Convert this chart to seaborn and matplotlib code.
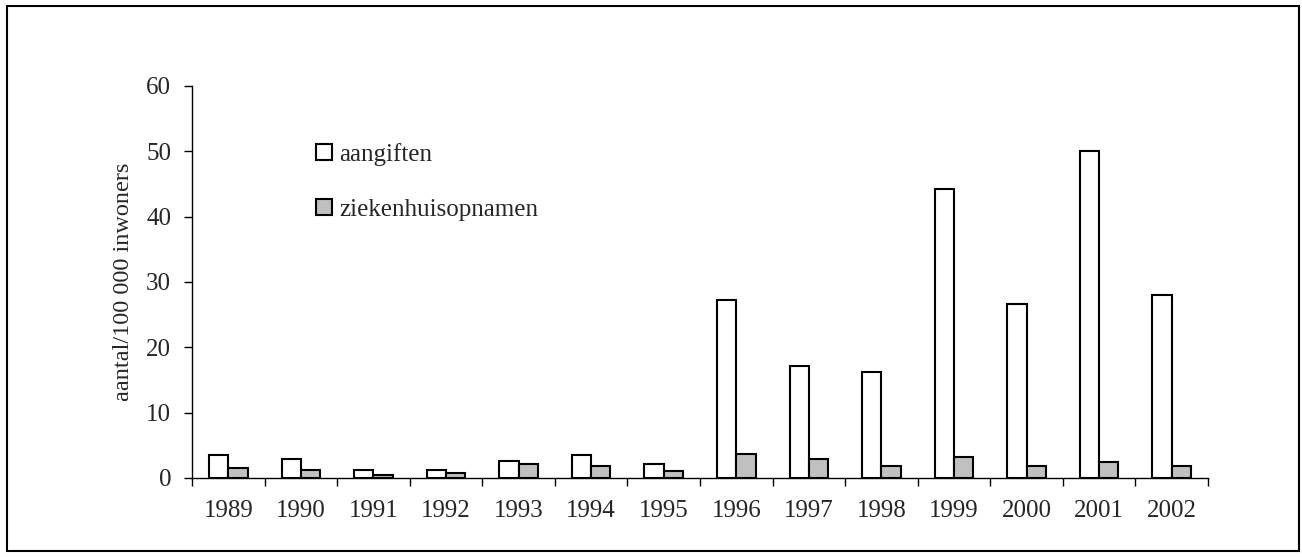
import matplotlib.pyplot as plt
import seaborn as sns
import pandas as pd
import numpy as np
from matplotlib.patches import Rectangle

years = ['1989', '1990', '1991', '1992', '1993', '1994', '1995',
         '1996', '1997', '1998', '1999', '2000', '2001', '2002']
aangiften = [3.5, 2.9, 1.2, 1.2, 2.6, 3.5, 2.1,
             27.2, 17.2, 16.2, 44.2, 26.6, 50.0, 28.0]
ziekenhuisopnamen = [1.5, 1.2, 0.5, 0.8, 2.2, 1.8, 1.1,
                     3.6, 2.9, 1.8, 3.2, 1.8, 2.5, 1.8]
series = ['aangiften', 'ziekenhuisopnamen']

df = pd.DataFrame({
    'jaar': years * 2,
    'waarde': aangiften + ziekenhuisopnamen,
    'reeks': [series[0]] * len(years) + [series[1]] * len(years),
})

sns.set_theme(style="white")
plt.rcParams['font.family'] = ['Liberation Serif', 'DejaVu Serif']

fig = plt.figure(figsize=(13.02, 5.57), dpi=100)
ax = fig.add_axes([192 / 1302, 79 / 557, 1016 / 1302, 392 / 557])

sns.barplot(data=df, x='jaar', y='waarde', hue='reeks',
            palette=['white', '#C0C0C0'], width=0.53, gap=0,
            edgecolor='black', linewidth=1.5, saturation=1, ax=ax)

ax.set_ylim(0, 60)
ax.set_xlim(-0.5, len(years) - 0.5)
ax.set_yticks(range(0, 61, 10))
ax.tick_params(axis='y', direction='out', length=6, width=1, labelsize=18,
               left=True, pad=9, color='black')
ax.tick_params(axis='x', which='major', length=0, labelsize=18, pad=16)
ax.set_xticks(np.arange(-0.5, len(years), 1), minor=True)
ax.tick_params(axis='x', which='minor', direction='out', length=6, width=1,
               bottom=True, color='black')

for side in ['top', 'right']:
    ax.spines[side].set_visible(False)
for side in ['left', 'bottom']:
    ax.spines[side].set_color('black')
    ax.spines[side].set_linewidth(1)

ax.set_xlabel('')
ax.set_ylabel('aantal/100 000 inwoners', fontsize=17.5, labelpad=9)

leg = ax.legend(loc='upper left', bbox_to_anchor=(0.100, 0.913), frameon=False,
                fontsize=18, handlelength=0.64, handleheight=0.64,
                handletextpad=0.3, labelspacing=1.33)

# outer border of the chart area
fig.patches.append(Rectangle((7 / 1302, 6 / 557), 1292 / 1302, 545 / 557,
                             transform=fig.transFigure, fill=False,
                             edgecolor='black', linewidth=1.5))

fig.savefig('out.png', dpi=100, facecolor='white')
